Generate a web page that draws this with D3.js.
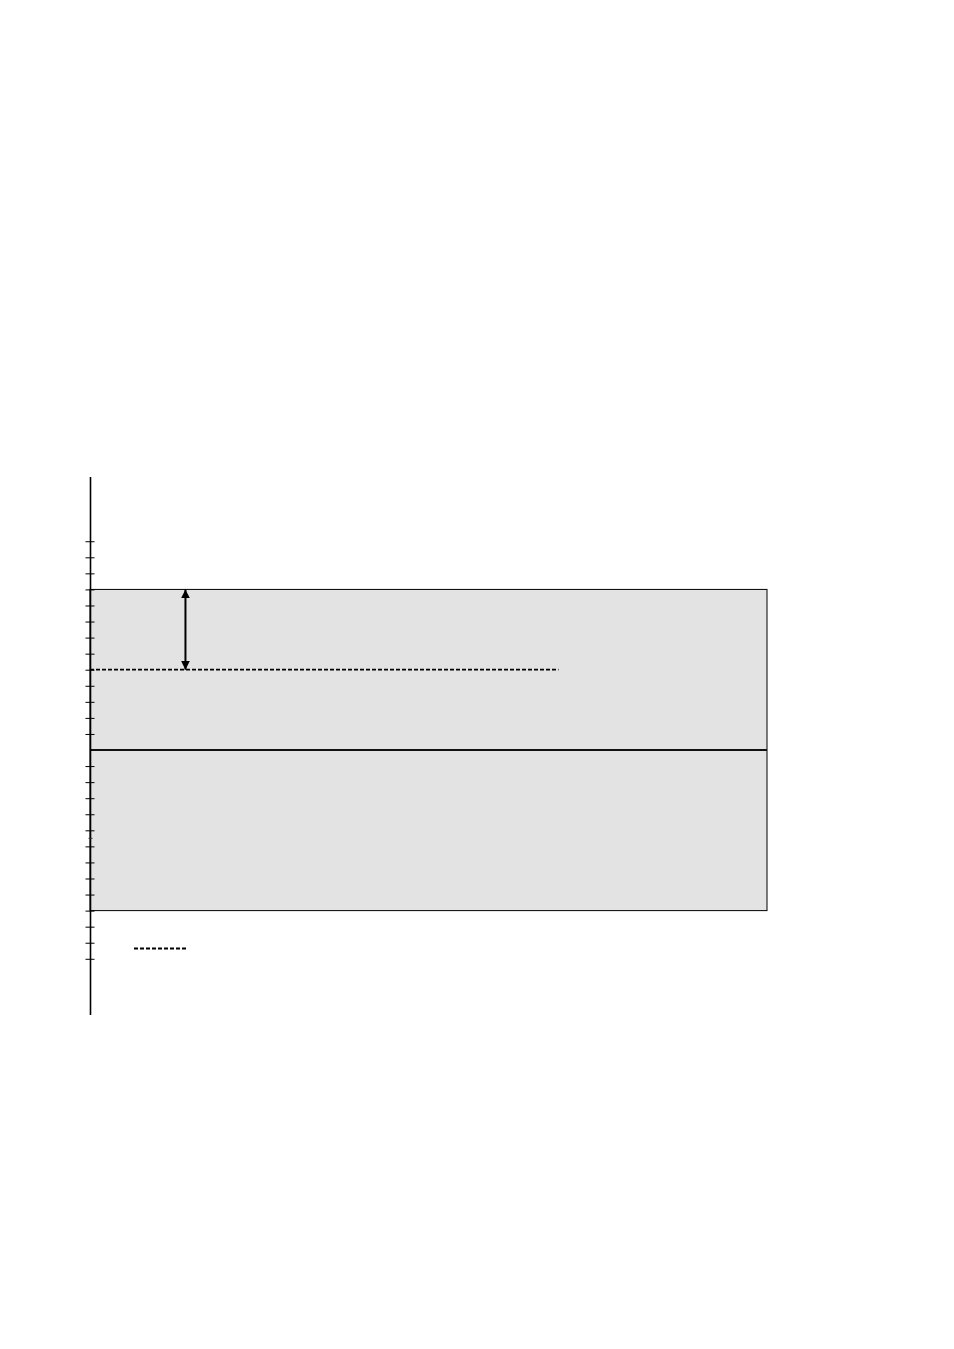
<!DOCTYPE html>
<html><head><meta charset="utf-8">
<script src="https://cdn.jsdelivr.net/npm/d3@7"></script>
<style>html,body{margin:0;padding:0;background:#fff;}svg{display:block;}</style>
</head><body>
<script>
// Data
const yTicks = [13,12,11,10,9,8,7,6,5,4,3,2,1,-1,-2,-3,-4,-5,-6,-7,-8,-9,-10,-11,-12,-13];
const minorMarks = [-5.5];
const bandRange = [-10, 10];      // shaded band
const centerValue = [0];          // solid center line
const refLine = {value: 5, xStart: 0, xEnd: 69.2};  // dashed reference
const arrowSpan = {x: 14.1, from: 10, to: 5};
const xDomain = [0, 100];
const yDomain = [-16.5, 17];

const W = 954, H = 1349;
const svg = d3.select("body").append("svg").attr("width", W).attr("height", H);

const x = d3.scaleLinear().domain(xDomain).range([90, 767]);
const y = d3.scaleLinear().domain(yDomain).range([1015, 477]);

const defs = svg.append("defs");
["arrEnd","arrStart"].forEach((id,i)=>{
  defs.append("marker").attr("id",id).attr("viewBox","0 0 10 10")
    .attr("refX", 10).attr("refY",5).attr("markerWidth",4.5).attr("markerHeight",4.5)
    .attr("orient","auto-start-reverse").attr("markerUnits","strokeWidth")
    .append("path").attr("d","M0,0 L10,5 L0,10 z").attr("fill","#000");
});

// band
svg.append("rect")
  .attr("x", x(xDomain[0])).attr("y", y(bandRange[1]))
  .attr("width", x(xDomain[1]) - x(xDomain[0]))
  .attr("height", y(bandRange[0]) - y(bandRange[1]))
  .attr("fill", "#e3e3e3").attr("stroke", "#000").attr("stroke-width", 1);

// center line
svg.selectAll(".center").data(centerValue).join("line")
  .attr("x1", x(xDomain[0])).attr("x2", x(xDomain[1]))
  .attr("y1", d=>y(d)).attr("y2", d=>y(d))
  .attr("stroke", "#111").attr("stroke-width", 2);

// dashed reference line
svg.append("line")
  .attr("x1", x(refLine.xStart)).attr("x2", x(refLine.xEnd))
  .attr("y1", y(refLine.value)).attr("y2", y(refLine.value))
  .attr("stroke", "#000").attr("stroke-width", 1.8).attr("stroke-dasharray", "4,2");

// arrow
svg.append("line")
  .attr("x1", x(arrowSpan.x)).attr("x2", x(arrowSpan.x))
  .attr("y1", y(arrowSpan.from)).attr("y2", y(arrowSpan.to))
  .attr("stroke", "#000").attr("stroke-width", 2)
  .attr("marker-start", "url(#arrStart)").attr("marker-end", "url(#arrEnd)");

// axis
const ax = svg.append("g").attr("transform", `translate(${x(xDomain[0])},0)`);
ax.call(d3.axisLeft(y).tickValues(yTicks).tickSize(4).tickFormat(""));
ax.select(".domain").remove();
ax.selectAll(".tick line").attr("x1", -4.5).attr("x2", 4.5).attr("stroke", "#000").attr("stroke-width", 1);
ax.append("line").attr("x1", 0.5).attr("x2", 0.5).attr("y1", y(yDomain[1])).attr("y2", y(yDomain[0]))
  .attr("stroke", "#000").attr("stroke-width", 1.6);
ax.selectAll(".minor").data(minorMarks).join("line").attr("class","minor")
  .attr("x1", -1.5).attr("x2", 2.5).attr("y1", d=>y(d)).attr("y2", d=>y(d))
  .attr("stroke", "#333").attr("stroke-width", 1);

// legend
svg.append("line").attr("x1", 134).attr("x2", 186).attr("y1", 948.5).attr("y2", 948.5)
  .attr("stroke", "#000").attr("stroke-width", 1.8).attr("stroke-dasharray", "4,2");
</script>
</body></html>
